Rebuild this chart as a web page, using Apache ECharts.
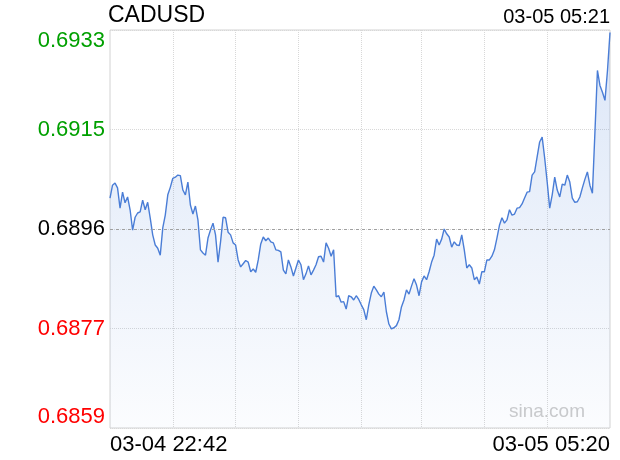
<!DOCTYPE html>
<html>
<head>
<meta charset="utf-8">
<script src="https://cdn.jsdelivr.net/npm/echarts@6/dist/echarts.min.js"></script>
<style>
    html, body {margin: 0; background: #fff;}
    #main {width: 620px; height: 460px;}
</style>
</head>
<body>
<div id="main"></div>
<script>
//  品种与时间
const symbolName = 'CADUSD';
const updateTime = '03-05 05:21';
const startDay = '03-04';
const nextDay = '03-05';
const startMinute = 22 * 60 + 42;
const stepMinute = 2;
//  昨收
const prevClose = 0.6896;
const yStep = prevClose / 370;

//  报价（每两分钟一个点）
const prices = [
    0.69018, 0.69042, 0.69046, 0.69037, 0.68999, 0.69029, 0.69009, 0.69020, 0.68996, 0.68958,
    0.68982, 0.68990, 0.68992, 0.69014, 0.68996, 0.69010, 0.68981, 0.68949, 0.68930, 0.68924,
    0.68911, 0.68962, 0.68986, 0.69024, 0.69038, 0.69055, 0.69057, 0.69061, 0.69060, 0.69033,
    0.69024, 0.69048, 0.69005, 0.68988, 0.69003, 0.68977, 0.68921, 0.68915, 0.68911, 0.68943,
    0.68958, 0.68971, 0.68949, 0.68898, 0.68936, 0.68982, 0.68981, 0.68954, 0.68949, 0.68934,
    0.68930, 0.68902, 0.68889, 0.68895, 0.68901, 0.68898, 0.68880, 0.68885, 0.68879, 0.68902,
    0.68932, 0.68945, 0.68938, 0.68943, 0.68936, 0.68934, 0.68921, 0.68920, 0.68917, 0.68883,
    0.68876, 0.68902, 0.68889, 0.68872, 0.68887, 0.68902, 0.68893, 0.68865, 0.68876, 0.68891,
    0.68874, 0.68883, 0.68893, 0.68908, 0.68909, 0.68898, 0.68934, 0.68924, 0.68909, 0.68921,
    0.68833, 0.68835, 0.68823, 0.68824, 0.68810, 0.68835, 0.68833, 0.68827, 0.68835, 0.68828,
    0.68818, 0.68809, 0.68790, 0.68818, 0.68840, 0.68853, 0.68846, 0.68838, 0.68833, 0.68842,
    0.68805, 0.68782, 0.68773, 0.68775, 0.68779, 0.68790, 0.68814, 0.68827, 0.68846, 0.68838,
    0.68853, 0.68867, 0.68855, 0.68835, 0.68861, 0.68872, 0.68865, 0.68880, 0.68898, 0.68911,
    0.68941, 0.68930, 0.68941, 0.68960, 0.68951, 0.68945, 0.68926, 0.68936, 0.68930, 0.68929,
    0.68949, 0.68921, 0.68887, 0.68893, 0.68887, 0.68865, 0.68870, 0.68857, 0.68880, 0.68880,
    0.68902, 0.68902, 0.68909, 0.68921, 0.68943, 0.68967, 0.68981, 0.68971, 0.68977, 0.68996,
    0.68986, 0.68988, 0.68999, 0.69000, 0.69007, 0.69018, 0.69029, 0.69030, 0.69061, 0.69067,
    0.69095, 0.69123, 0.69132, 0.69093, 0.69048, 0.68999, 0.69024, 0.69057, 0.69033, 0.69020,
    0.69044, 0.69042, 0.69061, 0.69048, 0.69018, 0.69010, 0.69011, 0.69020, 0.69037, 0.69053,
    0.69067, 0.69042, 0.69027, 0.69141, 0.69257, 0.69229, 0.69216, 0.69201, 0.69257, 0.69328
];

//  时间轴
const pad = n => (n < 10 ? '0' : '') + n;
const times = prices.map(function (p, i) {
    const t = startMinute + i * stepMinute;
    const day = t >= 1440 ? nextDay : startDay;
    const m = t % 1440;
    return day + ' ' + pad(Math.floor(m / 60)) + ':' + pad(m % 60);
});

const last = times.length - 1;
//  竖向网格线：8 等分
const vLines = [1, 2, 3, 4, 5, 6, 7].map(k => Math.round(k * last / 8));

const font = '"Liberation Sans", Arial, Helvetica, sans-serif';
const green = '#00a000';
const red = '#ff0000';

const myChart = echarts.init(document.getElementById('main'));
myChart.setOption({
    animation: false,
    backgroundColor: '#fff',
    title: [
        {
            text: symbolName,
            left: 108,
            top: 4,
            padding: 0,
            textStyle: {fontSize: 23, fontWeight: 'normal', color: '#000', fontFamily: font},
        },
        {
            text: updateTime,
            right: 10,
            top: 7,
            padding: 0,
            textStyle: {fontSize: 20, fontWeight: 'normal', color: '#000', fontFamily: font},
        },
    ],
    //  水印
    graphic: [
        {
            type: 'text',
            right: 35,
            top: 402,
            silent: true,
            style: {text: 'sina.com', fontSize: 19, fill: '#cccccc', fontFamily: font},
        }
    ],
    grid: {
        left: 110,
        right: 10,
        top: 30,
        bottom: 32,
        show: true,
        borderColor: '#d2d2d2',
        borderWidth: 1,
    },
    xAxis: {
        type: 'category',
        data: times,
        boundaryGap: false,
        axisLine: {show: false},
        axisTick: {show: false},
        axisLabel: {
            interval: (i) => i === 0 || i === last,
            fontSize: 22,
            color: '#000',
            fontFamily: font,
            margin: 6,
            alignMinLabel: 'left',
            alignMaxLabel: 'right',
        },
        splitLine: {
            show: true,
            interval: (i) => vLines.indexOf(i) >= 0,
            lineStyle: {color: '#d8d8d8', type: 'dotted', width: 1},
        },
    },
    yAxis: {
        type: 'value',
        min: yStep * 368,
        max: yStep * 372,
        interval: yStep,
        axisLine: {show: false},
        axisTick: {show: false},
        splitLine: {
            lineStyle: {color: '#d8d8d8', type: 'dotted', width: 1},
        },
        axisLabel: {
            margin: 5,
            fontFamily: font,
            fontSize: 22,
            verticalAlignMinLabel: 'bottom',
            verticalAlignMaxLabel: 'top',
            formatter: function (value) {
                const s = value.toFixed(4);
                if (Math.abs(value - prevClose) < 0.00001) {
                    return '{k|' + s + '}';
                }
                return (value > prevClose ? '{g|' : '{r|') + s + '}';
            },
            rich: {
                g: {color: green, fontSize: 22, fontFamily: font},
                r: {color: red, fontSize: 22, fontFamily: font},
                k: {color: '#000', fontSize: 22, fontFamily: font},
            },
        },
    },
    series: [
        {
            type: 'line',
            data: prices,
            symbol: 'none',
            lineStyle: {color: '#4a7dd6', width: 1.4},
            areaStyle: {
                origin: 'start',
                color: new echarts.graphic.LinearGradient(0, 0, 0, 1, [
                    {offset: 0, color: 'rgba(70,125,215,0.27)'},
                    {offset: 1, color: 'rgba(70,125,215,0.03)'},
                ]),
            },
            //  昨收线
            markLine: {
                silent: true,
                symbol: ['none', 'none'],
                label: {show: false},
                lineStyle: {color: '#a0a0a0', type: [3, 3], width: 1},
                data: [[
                    {coord: [0, prevClose]},
                    {coord: [last, prevClose]},
                ]],
            },
        }
    ],
});
</script>
</body>
</html>
